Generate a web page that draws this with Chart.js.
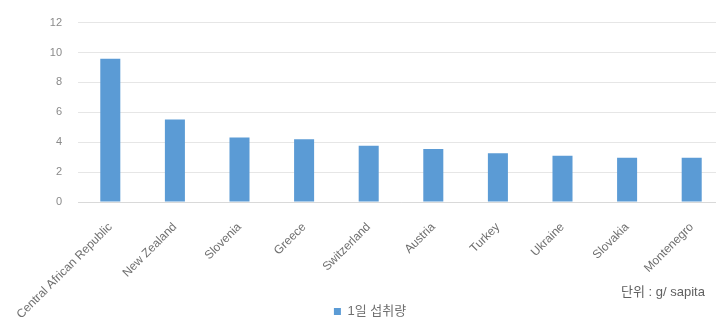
<!DOCTYPE html>
<html>
<head>
<meta charset="utf-8">
<script src="https://cdn.jsdelivr.net/npm/chart.js@4/dist/chart.umd.min.js"></script>
<style>
  html, body { margin: 0; padding: 0; background: #ffffff; overflow: hidden; }
  #wrap { position: relative; width: 716px; height: 320px; overflow: hidden; }
  #c { position: absolute; left: 0; top: 0; }
  #unit { position: absolute; left: 621px; top: 281px; font: 13px "Liberation Sans", "Noto Sans CJK KR", sans-serif; color: #606060; white-space: nowrap; }
</style>
</head>
<body>
<div id="wrap">
  <canvas id="c" width="724" height="320"></canvas>
  <div id="unit">단위 : g/ sapita</div>
</div>
<script>
const categories = ["Central African Republic", "New Zealand", "Slovenia", "Greece", "Switzerland", "Austria", "Turkey", "Ukraine", "Slovakia", "Montenegro"];
const seriesName = "1일 섭취량";
const values = [9.58, 5.52, 4.32, 4.2, 3.77, 3.55, 3.26, 3.1, 2.96, 2.96];
const yMin = 0, yMax = 12, yStep = 2;

const barColor = "#5b9bd5";
const textColor = "#6f6f6f";
const fontFamily = '"Liberation Sans", "Noto Sans CJK KR", sans-serif';

const legendShift = {
  id: "legendShift",
  afterLayout(chart) {
    const lg = chart.legend;
    if (lg) { lg.left += 8; lg.right += 8; lg.top += 8; lg.bottom += 8; }
  }
};

new Chart(document.getElementById("c"), {
  type: "bar",
  data: {
    labels: categories,
    datasets: [{
      label: seriesName,
      data: values,
      backgroundColor: barColor,
      borderWidth: 0,
      categoryPercentage: 1,
      barPercentage: 0.31
    }]
  },
  options: {
    responsive: false,
    animation: false,
    devicePixelRatio: 1,
    layout: { padding: { top: 16, left: 0, right: 0, bottom: 0 } },
    plugins: {
      legend: {
        position: "bottom",
        labels: {
          boxWidth: 7, boxHeight: 7, padding: 6,
          color: textColor,
          font: { size: 13, family: fontFamily }
        }
      },
      tooltip: { enabled: false }
    },
    scales: {
      x: {
        grid: { display: false },
        border: { display: true, color: "#d9d9d9" },
        ticks: {
          autoSkip: false, minRotation: 45, maxRotation: 45, padding: 10,
          color: textColor, font: { size: 12, family: fontFamily }
        },
        afterFit(scale) {
          scale.height = 89;
          scale._computeLabelArea = () => undefined;
        }
      },
      y: {
        min: yMin, max: yMax,
        grid: { color: "#e6e6e6", drawTicks: false },
        border: { display: false },
        ticks: {
          stepSize: yStep, padding: 16,
          color: "#8a8a8a", font: { size: 11, family: fontFamily }
        },
        afterFit(scale) { scale.width = 78; }
      }
    }
  },
  plugins: [legendShift]
});
</script>
</body>
</html>
